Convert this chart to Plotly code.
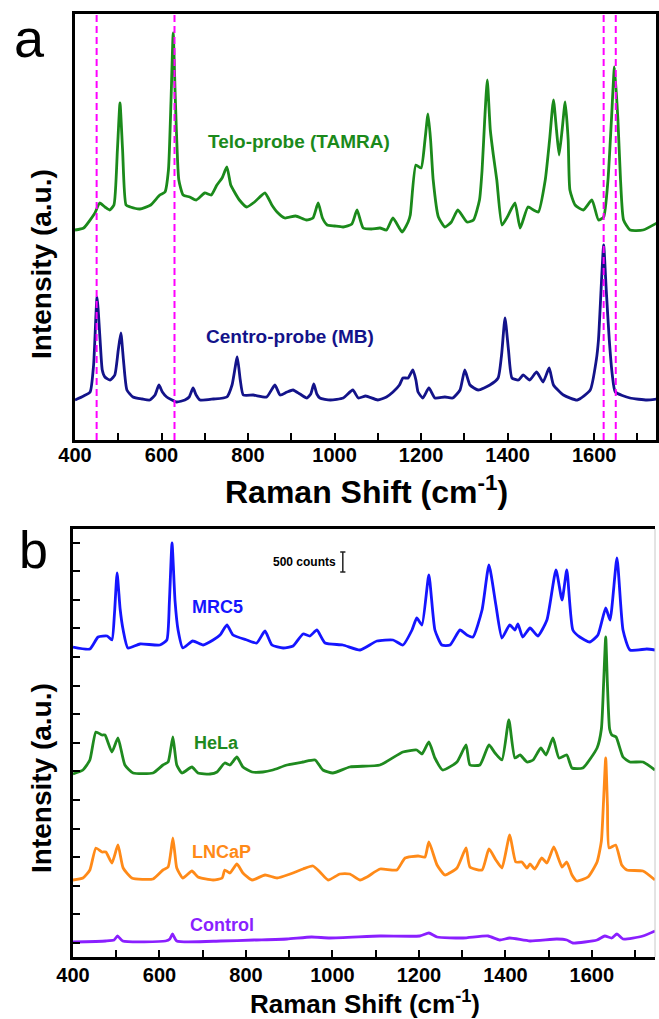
import plotly.graph_objects as go

# ---------------- data ----------------
# Panel a: Raman shift (cm-1) and intensity (a.u.)
telo_x = [400, 420, 446, 457, 469, 480, 490, 498, 504, 510, 518, 528, 550, 575, 596, 608, 616, 622, 627, 632,
          640, 650, 665, 680, 700, 715, 728, 740, 751, 760, 766, 780, 797, 815, 839, 855, 867, 885, 910, 935,
          950, 962, 972, 983, 1000, 1020, 1040, 1052, 1066, 1085, 1105, 1120, 1135, 1156, 1170, 1175, 1188,
          1200, 1209, 1216, 1222, 1228, 1240, 1255, 1270, 1285, 1306, 1321, 1335, 1341, 1347, 1353, 1360,
          1367, 1375, 1387, 1398, 1417, 1429, 1447, 1460, 1471, 1487, 1497, 1506, 1513, 1519, 1526, 1533,
          1540, 1544, 1556, 1575, 1595, 1610, 1622, 1632, 1640, 1647, 1655, 1661, 1668, 1683, 1713, 1745]
telo_y = [210, 212, 227, 237, 233, 230, 235, 290, 337, 290, 235, 233, 231, 235, 245, 248, 270, 340, 407, 340,
          260, 245, 243, 240, 247, 245, 255, 262, 273, 255, 250, 240, 233, 238, 247, 235, 228, 222, 224, 220,
          222, 237, 222, 215, 214, 213, 216, 230, 212, 211, 212, 210, 222, 208, 218, 225, 275,
          272, 300, 326, 300, 260, 223, 213, 218, 230, 218, 220, 240, 270, 320, 360, 310,
          285, 260, 215, 222, 237, 212, 233, 230, 228, 260, 300, 340, 310, 285, 310, 338,
          300, 250, 235, 230, 240, 220, 223, 260, 320, 373, 320, 260, 220, 210, 210, 217]

centro_x = [400, 420, 435, 443, 451, 458, 463, 469, 481, 492, 500, 506, 512, 520, 534, 555, 573, 585, 594, 602,
            612, 635, 654, 664, 673, 680, 689, 720, 751, 763, 775, 782, 789, 812, 843, 862, 874, 890, 904, 920,
            936, 945, 952, 959, 966, 990, 1020, 1042, 1055, 1072, 1100, 1120, 1135, 1150, 1158, 1170, 1181,
            1188, 1193, 1204, 1218, 1232, 1255, 1273, 1290, 1301, 1313, 1332, 1359, 1378, 1386, 1394, 1402,
            1410, 1425, 1436, 1451, 1467, 1482, 1496, 1506, 1529, 1561, 1591, 1605, 1610, 1616, 1622, 1628,
            1635, 1642, 1649, 1683, 1722, 1745]
centro_y = [40, 44, 48, 75, 143, 100, 70, 63, 60, 65, 90, 107, 80, 50, 43, 41, 40, 45, 55, 48,
            43, 38, 40, 43, 52, 45, 40, 41, 43, 55, 83, 60, 45, 45, 43, 55, 45, 48, 50, 46,
            42, 46, 56, 46, 42, 40, 42, 50, 42, 44, 40, 43, 48, 55, 62, 62, 70,
            60, 48, 42, 52, 42, 43, 42, 50, 70, 55, 50, 55, 62, 85, 122, 90,
            62, 60, 65, 60, 68, 58, 72, 55, 45, 40, 50, 80, 100, 150, 195, 150,
            100, 65, 48, 42, 40, 41]

# Panel b: Raman shift (cm-1) and intensity (counts, stacked)
mrc5_x = [400, 439, 458, 479, 490, 496, 502, 509, 516, 527, 555, 601, 617, 623, 629, 636, 643, 654, 677, 701,
          724, 740, 756, 770, 802, 825, 844, 860, 886, 909, 932, 948, 964, 983, 1024, 1064, 1103, 1140, 1163,
          1184, 1195, 1207, 1223, 1237, 1253, 1272, 1295, 1311, 1325, 1346, 1362, 1378, 1392, 1410, 1422,
          1429, 1440, 1457, 1475, 1496, 1517, 1531, 1542, 1556, 1572, 1595, 1614, 1632, 1642, 1658, 1672,
          1688, 1727, 1746]
mrc5_y = [7750, 7700, 8000, 8025, 7925, 8600, 9600, 8700, 8175, 7725, 7825, 7800, 7925, 8900, 10350, 8900,
          8175, 7725, 7900, 7800, 7925, 8050, 8300, 8050, 7925, 7850, 8150, 7800, 7725, 7775, 8075, 8025, 8175,
          7850, 7800, 7675, 7900, 7925, 7800, 8175, 8475, 8300, 9550, 8175, 7800, 7800, 8175, 8050, 8000, 8675,
          9800, 8800, 7975, 8300, 8175, 8325, 8000, 8225, 8025, 8425, 9675, 8925, 9675, 8175, 8000, 7875, 8050,
          8725, 8425, 9975, 8175, 7675, 7700, 7675]

hela_x = [400, 423, 439, 453, 467, 474, 490, 504, 520, 539, 585, 608, 620, 626, 631, 636, 640, 652, 675, 689,
          717, 733, 751, 763, 779, 793, 814, 839, 862, 895, 932, 960, 978, 1001, 1040, 1110, 1163, 1195, 1207,
          1223, 1237, 1255, 1288, 1309, 1318, 1341, 1362, 1376, 1392, 1408, 1422, 1434, 1450, 1464, 1482,
          1494, 1510, 1524, 1542, 1554, 1579, 1612, 1622, 1627, 1632, 1636, 1641, 1646, 1656, 1672, 1688,
          1718, 1746]
hela_y = [4575, 4675, 4925, 5625, 5550, 5550, 5125, 5475, 4800, 4600, 4600, 4800, 4875, 5200, 5500, 5100, 4800,
          4600, 4750, 4600, 4575, 4625, 4850, 4800, 5000, 4750, 4625, 4625, 4675, 4800, 4875, 4925, 4675, 4600,
          4750, 4800, 5125, 5175, 5075, 5375, 4975, 4675, 4875, 5300, 4800, 4800, 5300, 5100, 4925, 5925, 4975,
          5050, 4875, 4925, 5225, 5050, 5475, 4975, 5050, 4725, 4725, 5225, 5700, 6800, 8000, 6800, 5700, 5550,
          5500, 5000, 4875, 4875, 4675]

lncap_x = [400, 423, 439, 453, 467, 476, 490, 504, 516, 536, 585, 608, 620, 626, 631, 636, 640, 654, 675, 689,
           724, 745, 751, 763, 779, 793, 814, 844, 872, 902, 932, 955, 971, 990, 1017, 1040, 1064, 1080, 1110,
           1149, 1168, 1198, 1214, 1223, 1242, 1260, 1288, 1309, 1318, 1346, 1362, 1378, 1392, 1410, 1424,
           1438, 1450, 1457, 1468, 1484, 1496, 1512, 1531, 1542, 1554, 1565, 1591, 1612, 1622, 1627, 1632,
           1636, 1640, 1655, 1669, 1681, 1718, 1746]
lncap_y = [1925, 1975, 2175, 2725, 2625, 2625, 2350, 2800, 2225, 1975, 1950, 2175, 2250, 2600, 2975, 2550, 2225,
           1975, 2150, 2000, 1925, 1975, 2175, 2100, 2325, 2100, 1925, 2050, 1975, 2075, 2200, 2275, 2125, 1925,
           2075, 2075, 1925, 2000, 2200, 2175, 2475, 2525, 2500, 2875, 2300, 2050, 2225, 2725, 2250, 2175, 2700,
           2425, 2225, 3050, 2375, 2375, 2225, 2325, 2200, 2475, 2350, 2750, 2250, 2375, 2050, 1900, 2000, 2375,
           2900, 3900, 4975, 3800, 2725, 2800, 2300, 2175, 2150, 1925]

control_x = [400, 476, 495, 503, 515, 614, 624, 630, 640, 742, 818, 895, 952, 994, 1110, 1202, 1223, 1242, 1302,
             1360, 1387, 1410, 1457, 1519, 1542, 1556, 1612, 1630, 1646, 1658, 1672, 1718, 1746]
control_y = [375, 400, 425, 525, 400, 400, 450, 575, 400, 400, 425, 450, 500, 475, 525, 525, 600, 500, 475,
             525, 425, 475, 400, 450, 425, 350, 425, 525, 475, 575, 450, 525, 650]

# reference lines / labels
dash_lines = [450, 630, 1622, 1650]
scale_counts = 500

FONT = "Liberation Sans, Arial, sans-serif"
W, H = 659, 1019

fig = go.Figure()

def add_line(x, y, color, xa, ya, width=2.8):
    fig.add_trace(go.Scatter(x=x, y=y, mode="lines", xaxis=xa, yaxis=ya,
                             line=dict(color=color, width=width, shape="spline", smoothing=0.5),
                             showlegend=False, hoverinfo="skip"))

add_line(telo_x, telo_y, "#1b8a1b", "x", "y")
add_line(centro_x, centro_y, "#13138a", "x", "y")
add_line(mrc5_x, mrc5_y, "#1515ff", "x2", "y2")
add_line(hela_x, hela_y, "#1f8a1f", "x2", "y2")
add_line(lncap_x, lncap_y, "#ff8a18", "x2", "y2")
add_line(control_x, control_y, "#8a1fff", "x2", "y2")

ax_common = dict(showgrid=False, zeroline=False, linecolor="black", linewidth=2.5, mirror=True,
                 ticks="inside", ticklen=7, tickwidth=2, tickcolor="black")
xax = dict(ax_common, tick0=400, dtick=200,
           tickfont=dict(family=FONT, size=20, color="black", weight="bold"),
           minor=dict(dtick=100, ticks="inside", ticklen=7, tickwidth=2, tickcolor="black"))

fig.update_layout(
    width=W, height=H, plot_bgcolor="white", paper_bgcolor="white",
    margin=dict(l=0, r=0, t=0, b=0, autoexpand=False),
    xaxis=dict(xax, domain=[75 / W, 656 / W], range=[400, 1743], anchor="y", ticklabelstandoff=-5),
    yaxis=dict(ax_common, domain=[1 - 440 / H, 1 - 14 / H], range=[0, 426], ticks="",
               showticklabels=False, anchor="x"),
    xaxis2=dict(xax, domain=[73 / W, 655 / W], range=[400, 1746], anchor="y2", ticklabelstandoff=-2),
    yaxis2=dict(ax_common, domain=[1 - 957 / H, 1 - 529 / H], range=[0, 10700], showticklabels=False,
                mirror=False, tick0=350, dtick=715, ticklen=7, anchor="x2"),
)

# right border of panel b (faint in the reference)
fig.add_shape(type="line", xref="paper", yref="paper", x0=655 / W, x1=655 / W,
              y0=1 - 957 / H, y1=1 - 529 / H, line=dict(color="#c8c8c8", width=1))

# magenta dashed reference lines
for v in dash_lines:
    fig.add_shape(type="line", xref="x", yref="y domain", x0=v, x1=v, y0=0, y1=1,
                  line=dict(color="#ff00ff", width=2, dash="7px,4px"))

# scale bar (500 counts)
sb_x, sb_y0 = 1024, 9625
fig.add_shape(type="line", xref="x2", yref="y2", x0=sb_x, x1=sb_x, y0=sb_y0, y1=sb_y0 + scale_counts,
              line=dict(color="#222", width=1.5))
for yy in (sb_y0, sb_y0 + scale_counts):
    fig.add_shape(type="line", xref="x2", yref="y2", x0=sb_x - 6, x1=sb_x + 6, y0=yy, y1=yy,
                  line=dict(color="#222", width=1.5))
fig.add_annotation(x=1013, y=sb_y0 + scale_counts / 2, xref="x2", yref="y2", text="<b>500 counts</b>",
                   showarrow=False, xanchor="right", yanchor="middle",
                   font=dict(family=FONT, size=12, color="black"))

def ann(text, x, y, color, size, xref="paper", yref="paper", xanchor="center", angle=0, bold=True):
    fig.add_annotation(x=x, y=y, xref=xref, yref=yref, text=(f"<b>{text}</b>" if bold else text),
                       showarrow=False, xanchor=xanchor, yanchor="middle", textangle=angle,
                       font=dict(family=FONT, size=size, color=color))

# series labels
ann("Telo-probe (TAMRA)", 918, 298, "#1b8a1b", 19, "x", "y")
ann("Centro-probe (MB)", 897, 103, "#13138a", 19, "x", "y")
ann("MRC5", 670, 8750, "#1515ff", 18, "x2", "y2", xanchor="left")
ann("HeLa", 675, 5350, "#1f8a1f", 18, "x2", "y2", xanchor="left")
ann("LNCaP", 670, 2625, "#ff8a18", 18, "x2", "y2", xanchor="left")
ann("Control", 666, 800, "#8a1fff", 18, "x2", "y2", xanchor="left")

# axis titles
ann("Raman Shift (cm<sup>-1</sup>)", 366 / W, 1 - 490 / H, "black", 32)
ann("Raman Shift (cm<sup>-1</sup>)", 365 / W, 1 - 1002 / H, "black", 26)
ann("Intensity (a.u.)", 41 / W, 1 - 264 / H, "black", 28, angle=-90)
ann("Intensity (a.u.)", 41 / W, 1 - 778 / H, "black", 28, angle=-90)

# panel letters
ann("a", 29 / W, 1 - 38 / H, "black", 54, bold=False)
ann("b", 33 / W, 1 - 550 / H, "black", 52, bold=False)

fig.write_html("out.html", config={"displayModeBar": False},
               post_script="document.body.style.margin='0px';")
